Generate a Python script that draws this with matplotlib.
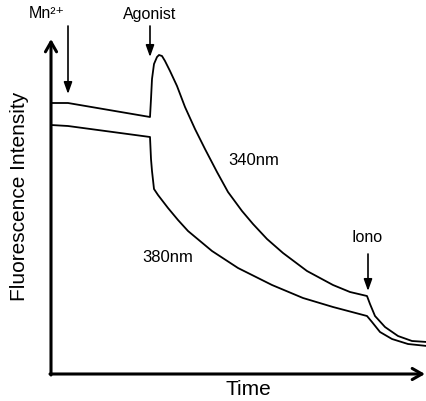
import matplotlib
matplotlib.use("Agg")
import matplotlib.pyplot as plt

plt.rcParams['font.family'] = ['Liberation Sans', 'DejaVu Sans']

# schematic traces (arbitrary units)
t340 = [0, 17, 99, 100, 101, 103, 106, 108, 111, 114, 119, 126, 134, 144, 154, 166, 177, 191, 202,
        216, 232, 256, 282, 299, 316, 319, 324, 334, 347, 361, 376]
f340 = [271, 271, 257, 275, 295, 310, 317, 319, 318, 313, 303, 288, 267, 245, 225, 202, 182, 163, 150,
        135, 121, 103, 89, 82, 78, 70, 58, 47, 38, 33, 32]

t380 = [0, 17, 99, 100, 101, 103, 107, 117, 127, 137, 161, 187, 221, 252, 282, 316, 321, 329, 341, 357, 376]
f380 = [249, 248, 237, 215, 203, 185, 179, 166, 154, 143, 123, 106, 89, 76, 67, 58, 52, 42, 35, 30, 28]

# event markers: (time, arrow top, arrow tip)
ev_t = [17, 99, 317]
ev_top = [348, 348, 120]
ev_tip = [280, 317, 83]

fig = plt.figure(figsize=(4.27, 4.02), dpi=100)
ax = fig.add_axes([51/427, 27/402, 376/427, 335/402])
ax.set_xlim(0, 376)
ax.set_ylim(0, 335)
ax.axis('off')

ax.plot(t340, f340, color='black', lw=1.3, solid_joinstyle='round')
ax.plot(t380, f380, color='black', lw=1.3, solid_joinstyle='round')

# axes drawn as arrows
ax.annotate('', xy=(0, 335), xytext=(0, -1), annotation_clip=False,
            arrowprops=dict(arrowstyle='->,head_length=0.7,head_width=0.4', lw=2.2, color='black', shrinkA=0, shrinkB=0))
ax.annotate('', xy=(374, 0), xytext=(-1, 0), annotation_clip=False,
            arrowprops=dict(arrowstyle='->,head_length=0.7,head_width=0.4', lw=2.2, color='black', shrinkA=0, shrinkB=0))

for t, top, tip in zip(ev_t, ev_top, ev_tip):
    ax.annotate('', xy=(t, tip), xytext=(t, top), annotation_clip=False,
                arrowprops=dict(arrowstyle='-|>,head_length=0.7,head_width=0.25', lw=1.2, color='black', shrinkA=0, shrinkB=0))

ax.text(-4, 361, "Mn²⁺", ha='center', va='center', fontsize=11.5)
ax.text(99, 361, "Agonist", ha='center', va='center', fontsize=11.5)
ax.text(316, 137, "Iono", ha='center', va='center', fontsize=11.5)
ax.text(203, 214, "340nm", ha='center', va='center', fontsize=12)
ax.text(117, 117, "380nm", ha='center', va='center', fontsize=12)

ax.text(197, -15, "Time", ha='center', va='center', fontsize=15)
ax.text(-31, 179, "Fluorescence Intensity", ha='center', va='center', rotation=90, fontsize=15)

fig.savefig("out.png", dpi=100)
